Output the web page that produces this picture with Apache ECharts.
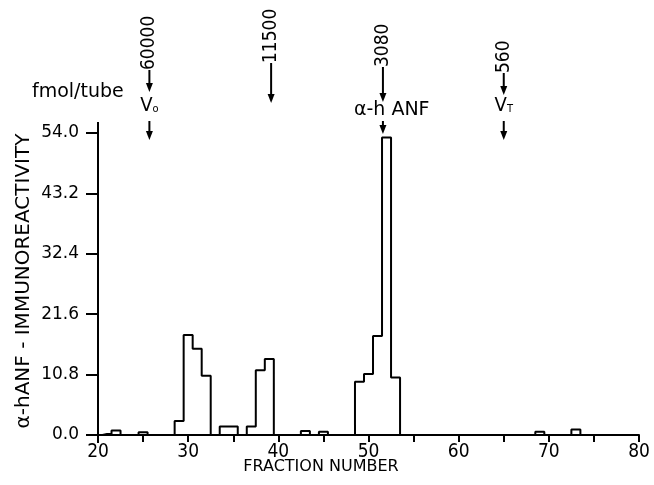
<!DOCTYPE html>
<html>
<head>
    <meta charset="UTF-8">
    <title>α-hANF immunoreactivity</title>
    <script src="https://cdn.jsdelivr.net/npm/echarts@6/dist/echarts.min.js"></script>
    <style>
        html, body { margin: 0; padding: 0; background: #fff; }
    </style>
</head>
<body>
<div id="chart" style="width: 654px;height:485px;"></div>

<script type="text/javascript">
    var FONT = '"DejaVu Sans Condensed", "DejaVu Sans", sans-serif';
    var WIDE = '"DejaVu Sans", sans-serif';

    // fraction numbers and fmol/tube
    var fractions = [20, 21, 22, 23, 24, 25, 26, 27, 28, 29,
                     30, 31, 32, 33, 34, 35, 36, 37, 38, 39,
                     40, 41, 42, 43, 44, 45, 46, 47, 48, 49,
                     50, 51, 52, 53, 54, 55, 56, 57, 58, 59,
                     60, 61, 62, 63, 64, 65, 66, 67, 68, 69,
                     70, 71, 72, 73, 74, 75, 76, 77, 78, 79];
    var immuno = [0, 0.2, 0.8, 0, 0, 0.5, 0, 0, 0, 2.5,
                  17.9, 15.4, 10.6, 0, 1.5, 1.5, 0, 1.5, 11.6, 13.6,
                  0, 0, 0, 0.7, 0, 0.6, 0, 0, 0, 9.5,
                  10.9, 17.7, 53.2, 10.3, 0, 0, 0, 0, 0, 0,
                  0, 0, 0, 0, 0, 0, 0, 0, 0, 0.6,
                  0, 0, 0, 1.0, 0, 0, 0, 0, 0, 0];

    // calibration markers (fraction where the arrow falls)
    var markerFraction = [25.7, 39.2, 51.6, 65];
    var markerMass = ['60000', '11500', '3080', '560'];
    var markerName = ['V{s|o}', '', 'α-h ANF', 'V{s|T}'];

    var points = fractions.map(function (f, i) { return [f, immuno[i]]; });

    var chart = echarts.init(document.getElementById('chart'));

    var option = {
        animation: false,
        grid: { left: 98, right: 15, top: 133, bottom: 50 },
        xAxis: {
            type: 'value',
            min: 20,
            max: 80,
            interval: 10,
            splitLine: { show: false },
            axisLine: { lineStyle: { color: '#000', width: 2 } },
            axisTick: { length: 7, lineStyle: { color: '#000', width: 2 } },
            minorTick: { show: true, splitNumber: 2, length: 7, lineStyle: { color: '#000', width: 2 } },
            axisLabel: { color: '#000', fontSize: 19, fontFamily: FONT, margin: 8 }
        },
        yAxis: {
            type: 'value',
            min: 0,
            max: 54,
            interval: 10.8,
            splitLine: { show: false },
            axisLine: { show: true, lineStyle: { color: '#000', width: 2 } },
            axisTick: { show: true, length: 12, lineStyle: { color: '#000', width: 2 } },
            axisLabel: {
                color: '#000', fontSize: 17, fontFamily: WIDE, margin: 19,
                formatter: function (v) { return v.toFixed(1); }
            }
        },
        series: [{
            type: 'line',
            step: 'middle',
            data: points,
            showSymbol: false,
            lineStyle: { color: '#000', width: 2 }
        }]
    };

    chart.setOption(option);

    // annotations at the top, placed through the x axis
    var graphics = [];
    var textBottom = [70, 63, 67, 73];
    var arrowTip = [92, 103, 102, 95];

    function arrow(x, y1, y2) {
        graphics.push({
            type: 'line', silent: true,
            shape: { x1: x, y1: y1, x2: x, y2: y2 - 4 },
            style: { stroke: '#000', lineWidth: 2 }
        });
        graphics.push({
            type: 'polygon', silent: true,
            shape: { points: [[x - 3.5, y2 - 9], [x + 3.5, y2 - 9], [x, y2]] },
            style: { fill: '#000' }
        });
    }

    markerFraction.forEach(function (f, i) {
        var x = chart.convertToPixel({ xAxisIndex: 0 }, f);
        graphics.push({
            type: 'text', silent: true,
            x: x, y: textBottom[i], rotation: Math.PI / 2,
            style: {
                text: markerMass[i], font: '19px ' + FONT, fill: '#000',
                align: 'left', verticalAlign: 'middle'
            }
        });
        arrow(x, textBottom[i], arrowTip[i]);
        if (markerName[i]) {
            var isAnf = markerName[i].indexOf('ANF') >= 0;
            graphics.push({
                type: 'text', silent: true,
                x: isAnf ? x - 29 : x, y: isAnf ? 110 : 106,
                style: {
                    text: markerName[i], font: (isAnf ? '19px ' + WIDE : '20px ' + FONT), fill: '#000',
                    align: isAnf ? 'left' : 'center', verticalAlign: 'middle',
                    rich: { s: { fontSize: 11, fontFamily: FONT, fill: '#000', padding: [7, 0, 0, 0] } }
                }
            });
            arrow(x, 121, isAnf ? 134 : 140);
        }
    });

    // y axis line runs a little past both ends, as in the print
    var axisX = chart.convertToPixel({ xAxisIndex: 0 }, 20);
    var yTop = chart.convertToPixel({ yAxisIndex: 0 }, 54);
    var yBottom = chart.convertToPixel({ yAxisIndex: 0 }, 0);
    graphics.push({
        type: 'line', silent: true,
        shape: { x1: axisX, y1: yTop - 11, x2: axisX, y2: yBottom + 8 },
        style: { stroke: '#000', lineWidth: 2 }
    });

    graphics.push({
        type: 'text', silent: true, x: 32, y: 92,
        style: { text: 'fmol/tube', font: '19px ' + WIDE, fill: '#000', align: 'left', verticalAlign: 'middle' }
    });
    graphics.push({
        type: 'text', silent: true, x: 24, y: 281, rotation: Math.PI / 2,
        style: { text: 'α-hANF - IMMUNOREACTIVITY', font: '20px ' + WIDE, fill: '#000', align: 'center', verticalAlign: 'middle' }
    });
    graphics.push({
        type: 'text', silent: true, x: 321, y: 467,
        style: { text: 'FRACTION NUMBER', font: '16px ' + WIDE, fill: '#000', align: 'center', verticalAlign: 'middle' }
    });

    chart.setOption({ graphic: graphics });
</script>
</body>
</html>
